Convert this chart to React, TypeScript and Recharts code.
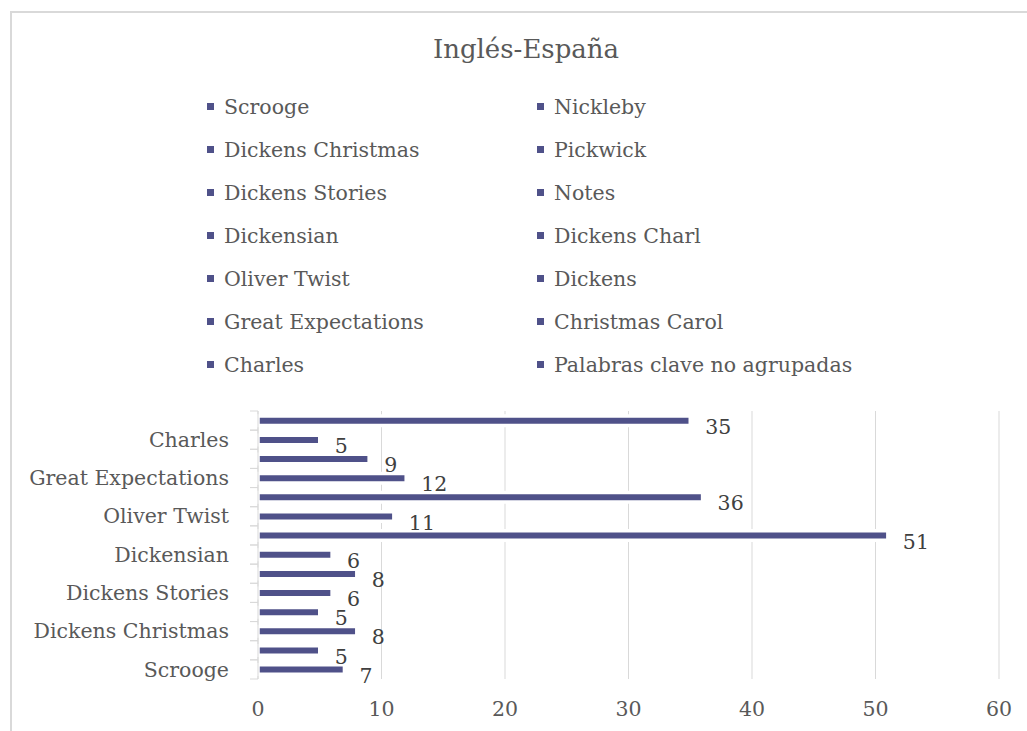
import React from 'react';
import { Bar, BarChart, CartesianGrid, LabelList, Legend, XAxis, YAxis } from 'recharts';

const categories = [
    'Scrooge',
    'Nickleby',
    'Dickens Christmas',
    'Pickwick',
    'Dickens Stories',
    'Notes',
    'Dickensian',
    'Dickens Charl',
    'Oliver Twist',
    'Dickens',
    'Great Expectations',
    'Christmas Carol',
    'Charles',
    'Palabras clave no agrupadas',
];
const values = [7, 5, 8, 5, 6, 8, 6, 51, 11, 36, 12, 9, 5, 35];
const xTicks = [0, 10, 20, 30, 40, 50, 60];

const TITLE = 'Inglés-España';
const FONT = '"DejaVu Serif", Georgia, serif';
const BAR_COLOR = '#4f5189';
const GRID_COLOR = '#d9d9d9';
const TEXT_COLOR = '#595959';
const LABEL_COLOR = '#404040';

const data = categories.map((name, i) => ({ name, value: values[i] }));

const CategoryTick = (props: any) => {
    const { x, y, payload, index } = props;
    const half = payload?.offset || 9.57;
    return (
        <g>
            <line x1={x} x2={x + 8} y1={y - half} y2={y - half} stroke={GRID_COLOR} />
            <line x1={x} x2={x + 8} y1={y + half} y2={y + half} stroke={GRID_COLOR} />
            {index % 2 === 0 && (
                <text x={x - 21} y={y} dy="0.35em" textAnchor="end" fill={TEXT_COLOR} fontSize={20.5} fontFamily={FONT}>
                    {payload.value}
                </text>
            )}
        </g>
    );
};

const ValueLabel = (props: any) => {
    const { x, y, width, height, value } = props;
    return (
        <text x={x + width + 15} y={y + height / 2 + 6} dy="0.35em" fill={LABEL_COLOR} fontSize={20.5} fontFamily={FONT}>
            {value}
        </text>
    );
};

const LegendBox = () => (
    <div style={{ display: 'grid', gridTemplateColumns: '330px 330px', gridAutoRows: '43px', fontFamily: FONT }}>
        {categories.map((name) => (
            <div key={name} style={{ display: 'flex', alignItems: 'center', fontSize: 20.5, color: TEXT_COLOR, whiteSpace: 'nowrap' }}>
                <span style={{ width: 7, height: 7, background: BAR_COLOR, marginRight: 10, flex: 'none' }} />
                {name}
            </div>
        ))}
    </div>
);

export default function App() {
    return (
        <div style={{ position: 'absolute', left: 0, top: 0, width: 1027, height: 731, overflow: 'hidden', background: '#fff' }}>
            <div
                style={{
                    position: 'absolute',
                    left: 10,
                    top: 11,
                    width: 1040,
                    height: 740,
                    borderTop: `2px solid ${GRID_COLOR}`,
                    borderLeft: `2px solid ${GRID_COLOR}`,
                }}
            />
            <div
                style={{
                    position: 'absolute',
                    left: 0,
                    top: 34,
                    width: 1052,
                    lineHeight: '30px',
                    textAlign: 'center',
                    fontSize: 26,
                    fontFamily: FONT,
                    color: TEXT_COLOR,
                }}
            >
                {TITLE}
            </div>
            <div style={{ position: 'absolute', left: 0, top: 0 }}>
                <BarChart
                    width={1027}
                    height={731}
                    data={data}
                    layout="vertical"
                    margin={{ top: 411, right: 28, bottom: 22, left: 8 }}
                >
                    <CartesianGrid horizontal={false} stroke={GRID_COLOR} />
                    <XAxis
                        type="number"
                        domain={[0, 60]}
                        ticks={xTicks}
                        axisLine={false}
                        tickLine={false}
                        tickMargin={16}
                        height={30}
                        tick={{ fill: TEXT_COLOR, fontSize: 20.5, fontFamily: FONT }}
                    />
                    <YAxis
                        type="category"
                        dataKey="name"
                        reversed
                        width={250}
                        interval={0}
                        tickSize={8}
                        tickMargin={0}
                        tickLine={false}
                        axisLine={{ stroke: GRID_COLOR }}
                        tick={<CategoryTick />}
                    />
                    <Legend
                        layout="horizontal"
                        verticalAlign="middle"
                        align="center"
                        wrapperStyle={{ left: 207, top: 85, width: 700 }}
                        content={() => <LegendBox />}
                    />
                    <Bar dataKey="value" fill={BAR_COLOR} barSize={9.5} stroke="#ffffff" strokeWidth={3.5} isAnimationActive={false}>
                        <LabelList dataKey="value" content={<ValueLabel />} />
                    </Bar>
                </BarChart>
            </div>
        </div>
    );
}
